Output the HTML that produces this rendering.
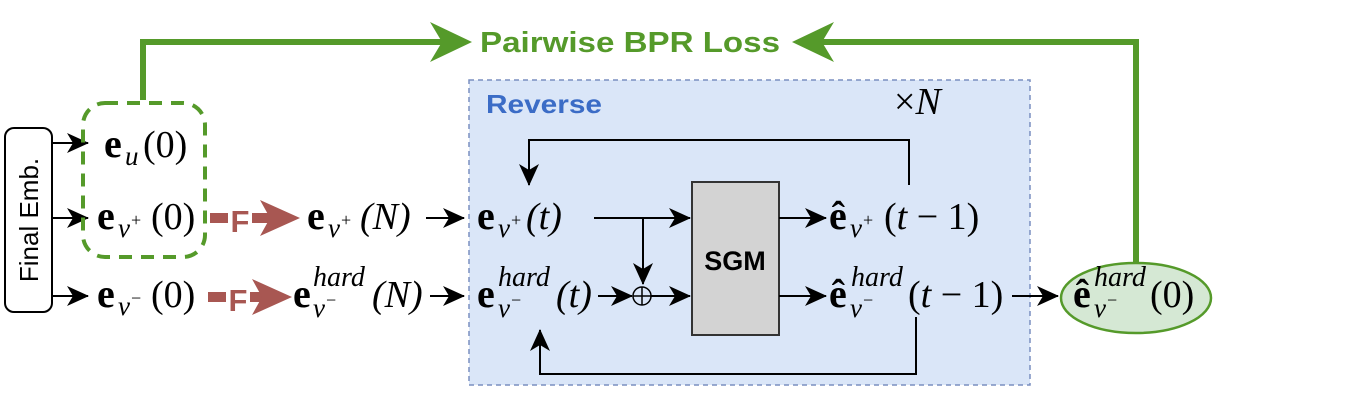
<!DOCTYPE html>
<html><head><meta charset="utf-8"><style>
body{margin:0;background:#fff;}
svg{display:block}
text{font-family:"Liberation Serif",serif;fill:#000}
.e{font-size:40px;font-weight:bold}
.p{font-size:38px}
.sb{font-size:27px;font-style:italic}
.h{font-size:28px;font-style:italic}
.sp{font-size:18px}
.i{font-style:italic}
</style></head><body>
<svg width="1350" height="405" viewBox="0 0 1350 405" xmlns="http://www.w3.org/2000/svg">
<defs>
<marker id="ab" markerWidth="22" markerHeight="22" refX="21" refY="11" orient="auto" markerUnits="userSpaceOnUse" viewBox="0 0 22 22"><path d="M0,1 L22,11 L0,21 L6,11 Z" fill="#000"/></marker>
</defs>
<text x="480" y="52" textLength="300" lengthAdjust="spacingAndGlyphs" style="font-family:'Liberation Sans',sans-serif;fill:#559a2a" font-weight="bold" font-size="29">Pairwise BPR Loss</text>
<polyline points="143,100 143,42 455,42" fill="none" stroke="#559a2a" stroke-width="6"/>
<path d="M472,42 L430,22 L442,42 L430,62 Z" fill="#559a2a"/>
<polyline points="1136,262 1136,42 808,42" fill="none" stroke="#559a2a" stroke-width="6"/>
<path d="M792,42 L834,22 L822,42 L834,62 Z" fill="#559a2a"/>
<rect x="469" y="80" width="561" height="305" fill="#dae6f8" stroke="#7a8fc0" stroke-width="1.5" stroke-dasharray="5,4"/>
<text x="486" y="113" textLength="116" lengthAdjust="spacingAndGlyphs" style="font-family:'Liberation Sans',sans-serif;fill:#3b6cc6" font-weight="bold" font-size="26">Reverse</text>
<text x="894" y="114" class="p">×<tspan class="i">N</tspan></text>
<rect x="5" y="128" width="47" height="184" rx="9" fill="#fff" stroke="#000" stroke-width="2"/>
<text transform="translate(38,220) rotate(-90)" text-anchor="middle" style="font-family:'Liberation Sans',sans-serif" font-size="26">Final Emb.</text>
<line x1="52" y1="143" x2="88" y2="143" stroke="#000" stroke-width="2" marker-end="url(#ab)"/>
<line x1="52" y1="218" x2="88" y2="218" stroke="#000" stroke-width="2" marker-end="url(#ab)"/>
<line x1="52" y1="296" x2="88" y2="296" stroke="#000" stroke-width="2" marker-end="url(#ab)"/>
<rect x="83" y="103" width="122" height="154" rx="22" fill="none" stroke="#559a2a" stroke-width="4" stroke-dasharray="13,9"/>
<text x="104" y="157" class="e">e</text><text x="125" y="165" class="sb">u</text><text x="143" y="157" class="p">(0)</text>
<text x="97" y="229" class="e">e</text><text x="118" y="237" class="sb">v</text><text x="131" y="226" class="sp">+</text><text x="151" y="229" class="p">(0)</text>
<text x="97" y="307" class="e">e</text><text x="118" y="315" class="sb">v</text><text x="131" y="304" class="sp">−</text><text x="151" y="307" class="p">(0)</text>
<g fill="#a85752">
<rect x="210" y="213" width="18" height="10"/><rect x="252" y="213" width="18" height="10"/><path d="M300,218 L260,200 L270,218 L260,236 Z"/>
<rect x="208" y="292" width="18" height="10"/><rect x="250" y="292" width="20" height="10"/><path d="M292,297 L252,279 L262,297 L252,315 Z"/>
</g>
<text x="240" y="232" text-anchor="middle" style="font-family:'Liberation Sans',sans-serif;fill:#a85752" font-weight="bold" font-size="31">F</text>
<text x="238" y="311" text-anchor="middle" style="font-family:'Liberation Sans',sans-serif;fill:#a85752" font-weight="bold" font-size="31">F</text>
<text x="307" y="229" class="e">e</text><text x="328" y="237" class="sb">v</text><text x="341" y="226" class="sp">+</text><text x="360" y="229" class="p i">(N)</text>
<text x="293" y="307" class="e">e</text><text x="313" y="286" class="h">hard</text><text x="313" y="317" class="sb">v</text><text x="326" y="306" class="sp">−</text><text x="372" y="307" class="p i">(N)</text>
<line x1="426" y1="218" x2="464" y2="218" stroke="#000" stroke-width="2" marker-end="url(#ab)"/>
<line x1="430" y1="296" x2="464" y2="296" stroke="#000" stroke-width="2" marker-end="url(#ab)"/>
<text x="477" y="229" class="e">e</text><text x="498" y="237" class="sb">v</text><text x="511" y="226" class="sp">+</text><text x="526" y="229" class="p i">(t)</text>
<text x="477" y="307" class="e">e</text><text x="498" y="286" class="h">hard</text><text x="498" y="317" class="sb">v</text><text x="511" y="306" class="sp">−</text><text x="556" y="307" class="p i">(t)</text>
<line x1="594" y1="218" x2="690" y2="218" stroke="#000" stroke-width="2" marker-end="url(#ab)"/>
<line x1="643" y1="218" x2="643" y2="284" stroke="#000" stroke-width="2" marker-end="url(#ab)"/>
<line x1="598" y1="296" x2="632" y2="296" stroke="#000" stroke-width="2" marker-end="url(#ab)"/>
<circle cx="642" cy="296" r="9" fill="none" stroke="#000" stroke-width="1.5"/>
<line x1="633" y1="296" x2="651" y2="296" stroke="#000" stroke-width="1.5"/>
<line x1="642" y1="287" x2="642" y2="305" stroke="#000" stroke-width="1.5"/>
<line x1="651" y1="296" x2="690" y2="296" stroke="#000" stroke-width="2" marker-end="url(#ab)"/>
<rect x="692" y="182" width="87" height="153" fill="#d3d3d3" stroke="#333" stroke-width="2"/>
<text x="735" y="270" text-anchor="middle" style="font-family:'Liberation Sans',sans-serif" font-weight="bold" font-size="27">SGM</text>
<line x1="779" y1="218" x2="826" y2="218" stroke="#000" stroke-width="2" marker-end="url(#ab)"/>
<line x1="779" y1="296" x2="826" y2="296" stroke="#000" stroke-width="2" marker-end="url(#ab)"/>
<text x="829" y="229" class="e">ê</text><text x="850" y="237" class="sb">v</text><text x="863" y="226" class="sp">+</text><text x="884" y="229" class="p">(<tspan class="i">t</tspan> − 1)</text>
<text x="829" y="307" class="e">ê</text><text x="851" y="286" class="h">hard</text><text x="850" y="317" class="sb">v</text><text x="863" y="306" class="sp">−</text><text x="908" y="307" class="p">(<tspan class="i">t</tspan> − 1)</text>
<polyline points="909,185 909,140 529,140 529,185" fill="none" stroke="#000" stroke-width="2" marker-end="url(#ab)"/>
<polyline points="916,317 916,374 540,374 540,330" fill="none" stroke="#000" stroke-width="2" marker-end="url(#ab)"/>
<line x1="1012" y1="296" x2="1058" y2="296" stroke="#000" stroke-width="2" marker-end="url(#ab)"/>
<ellipse cx="1136" cy="298" rx="75" ry="35" fill="#d5e8d4" stroke="#559a2a" stroke-width="2.5"/>
<text x="1073" y="307" class="e">ê</text><text x="1094" y="286" class="h">hard</text><text x="1094" y="317" class="sb">v</text><text x="1107" y="306" class="sp">−</text><text x="1150" y="307" class="p">(0)</text>
</svg>
</body></html>
